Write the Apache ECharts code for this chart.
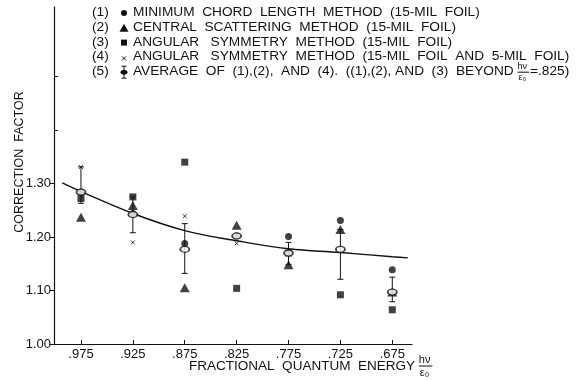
<!DOCTYPE html>
<html>
<head>
<meta charset="utf-8">
<script src="https://cdn.jsdelivr.net/npm/echarts@6/dist/echarts.min.js"></script>
<style>
  html, body { margin: 0; padding: 0; background: #fff; }
  #chart { width: 576px; height: 381px; }
</style>
</head>
<body>
<div id="chart"></div>
<script>
// fractional quantum energy hv/E0 (axis runs right-to-left)
const energies = [0.975, 0.925, 0.875, 0.825, 0.775, 0.725, 0.675];
const xTickLabels = ['.975', '.925', '.875', '.825', '.775', '.725', '.675'];
const yTicks = [1.00, 1.10, 1.20, 1.30];
const yMinorTicks = [1.40, 1.50];

// (1) minimum chord length method
const chordLength = [1.284, 1.244, 1.188, 1.202, 1.201, 1.231, 1.139];
// (2) central scattering method
const centralScatter = [1.237, 1.259, 1.105, 1.222, 1.148, 1.214, 1.097];
// (3) angular symmetry method, 15-mil foil
const angular15 = [1.272, 1.275, 1.340, 1.104, 1.170, 1.092, 1.064];
// (4) angular symmetry method, 15 + 5-mil foil
const angular5 = [1.331, 1.190, 1.239, 1.188, null, null, null];
// (5) average with spread
const average = [1.284, 1.242, 1.177, 1.202, 1.170, 1.177, 1.097];
const errLow = [1.263, 1.208, 1.132, null, 1.148, 1.121, 1.079];
const errHigh = [1.331, 1.275, 1.225, null, 1.190, 1.214, 1.125];

// smooth curve drawn through the points
const fitX = [0.993, 0.975, 0.925, 0.875, 0.825, 0.775, 0.725, 0.675, 0.66];
const fitY = [1.301, 1.285, 1.244, 1.212, 1.193, 1.178, 1.171, 1.163, 1.161];

const FONT = 'Liberation Sans';
const INK = '#111';

function pairs(xs, ys) {
  return xs.map((x, i) => [x, ys[i]]).filter(p => p[1] != null);
}

const ctx = document.createElement('canvas').getContext('2d');
function textW(str, size) {
  ctx.font = size + 'px "' + FONT + '"';
  return ctx.measureText(str).width;
}
function font(size) { return size + 'px "' + FONT + '"'; }

const chart = echarts.init(document.getElementById('chart'));

// legend block
const legendRows = [
  ['(1)', 'MINIMUM  CHORD  LENGTH  METHOD  (15-MIL  FOIL)'],
  ['(2)', 'CENTRAL  SCATTERING  METHOD  (15-MIL  FOIL)'],
  ['(3)', 'ANGULAR   SYMMETRY  METHOD  (15-MIL  FOIL)'],
  ['(4)', 'ANGULAR   SYMMETRY  METHOD  (15-MIL  FOIL  AND  5-MIL  FOIL)'],
  ['(5)', 'AVERAGE  OF  (1),(2),  AND  (4).  ((1),(2), AND  (3)  BEYOND ']
];
const LX = 92, LSYM = 124, LTXT = 133, LY0 = 13, LDY = 14.8;
const LFS = Math.min(14, 12 * (570 - LTXT) / textW(legendRows[3][1], 12));
const graphics = [];
legendRows.forEach((r, i) => {
  const y = LY0 + i * LDY;
  graphics.push({ type: 'text', left: LX, top: y - LFS / 2 - 1, style: { text: r[0], font: font(LFS), fill: INK } });
  graphics.push({ type: 'text', left: LTXT, top: y - LFS / 2 - 1, style: { text: r[1], font: font(LFS), fill: INK } });
});
// legend symbols
graphics.push({ type: 'circle', shape: { cx: LSYM, cy: LY0, r: 3 }, style: { fill: INK } });
graphics.push({ type: 'polygon', shape: { points: [[LSYM - 4.5, LY0 + LDY + 4], [LSYM + 4.5, LY0 + LDY + 4], [LSYM, LY0 + LDY - 4]] }, style: { fill: INK } });
graphics.push({ type: 'rect', shape: { x: LSYM - 3, y: LY0 + 2 * LDY - 3, width: 6, height: 6 }, style: { fill: INK } });
graphics.push({ type: 'polyline', shape: { points: [[LSYM - 2, LY0 + 3 * LDY - 1], [LSYM + 2, LY0 + 3 * LDY + 3]] }, style: { stroke: INK, lineWidth: 1 } });
graphics.push({ type: 'polyline', shape: { points: [[LSYM + 2, LY0 + 3 * LDY - 1], [LSYM - 2, LY0 + 3 * LDY + 3]] }, style: { stroke: INK, lineWidth: 1 } });
(function () {
  const cy = LY0 + 4 * LDY;
  graphics.push({ type: 'line', shape: { x1: LSYM, y1: cy - 6, x2: LSYM, y2: cy + 6 }, style: { stroke: INK, lineWidth: 1 } });
  graphics.push({ type: 'line', shape: { x1: LSYM - 2.5, y1: cy - 6, x2: LSYM + 2.5, y2: cy - 6 }, style: { stroke: INK, lineWidth: 1 } });
  graphics.push({ type: 'line', shape: { x1: LSYM - 2.5, y1: cy + 6, x2: LSYM + 2.5, y2: cy + 6 }, style: { stroke: INK, lineWidth: 1 } });
  graphics.push({ type: 'ellipse', shape: { cx: LSYM, cy: cy, rx: 3.5, ry: 2.5 }, style: { fill: INK } });
})();

// hv / E0 fraction helper
function fraction(x, cy, size) {
  const w = textW('hν', size) + 2;
  return [
    { type: 'text', left: x, top: cy - size - 1, style: { text: 'hν', font: font(size), fill: INK } },
    { type: 'line', shape: { x1: x, y1: cy, x2: x + w, y2: cy }, style: { stroke: INK, lineWidth: 1 } },
    { type: 'text', left: x + 1, top: cy + 1, style: { text: 'ε₀', font: font(size), fill: INK } }
  ];
}

const row5y = LY0 + 4 * LDY;
const fx5 = LTXT + textW(legendRows[4][1], LFS);
graphics.push(...fraction(fx5, row5y, 9));
graphics.push({ type: 'text', left: fx5 + textW('hν', 9) + 3, top: row5y - LFS / 2 - 1, style: { text: '=.825)', font: font(LFS), fill: INK } });

// axis titles
const xTitle = 'FRACTIONAL  QUANTUM  ENERGY ';
const XFS = 13 * 230 / textW(xTitle, 13);
graphics.push({ type: 'text', left: 189, top: 367 - XFS / 2 - 1, style: { text: xTitle, font: font(XFS), fill: INK } });
graphics.push(...fraction(189 + textW(xTitle, XFS), 366, 11));
graphics.push({
  type: 'text', x: 20, y: 162, rotation: Math.PI / 2,
  style: { text: 'CORRECTION  FACTOR', font: font(12.5), fill: INK, align: 'center', verticalAlign: 'middle' }
});

function errorBar(params, api) {
  const x = api.value(0), lo = api.value(1), hi = api.value(2);
  const top = api.coord([x, hi]);
  const bot = api.coord([x, lo]);
  const cap = 3;
  const s = { stroke: INK, lineWidth: 1 };
  return {
    type: 'group',
    children: [
      { type: 'line', shape: { x1: top[0], y1: top[1], x2: bot[0], y2: bot[1] }, style: s },
      { type: 'line', shape: { x1: top[0] - cap, y1: top[1], x2: top[0] + cap, y2: top[1] }, style: s },
      { type: 'line', shape: { x1: bot[0] - cap, y1: bot[1], x2: bot[0] + cap, y2: bot[1] }, style: s }
    ]
  };
}

const errData = energies.map((x, i) => [x, errLow[i], errHigh[i]]).filter(d => d[1] != null);

const option = {
  animation: false,
  backgroundColor: '#fff',
  grid: { left: 54, right: 164, top: 7, bottom: 37 },
  xAxis: {
    type: 'value', inverse: true, min: 0.656, max: 1.001,
    axisLine: { lineStyle: { color: INK, width: 1.2 } },
    axisTick: { inside: true, length: 4, lineStyle: { color: INK }, customValues: energies },
    axisLabel: {
      customValues: energies, color: INK, fontFamily: FONT, fontSize: 13, margin: 4,
      formatter: v => xTickLabels[energies.indexOf(+v.toFixed(3))] || ''
    },
    splitLine: { show: false }
  },
  yAxis: [{
    type: 'value', min: 1.0, max: 1.63,
    axisLine: { show: true, lineStyle: { color: INK, width: 1.2 } },
    axisTick: { show: true, length: 4, lineStyle: { color: INK }, customValues: yTicks },
    axisLabel: { customValues: yTicks, color: INK, fontFamily: FONT, fontSize: 13, margin: 3, formatter: v => v.toFixed(2) },
    splitLine: { show: false }
  }, {
    type: 'value', min: 1.0, max: 1.63, position: 'left',
    axisLine: { show: false },
    axisTick: { show: true, inside: true, length: 4, lineStyle: { color: INK }, customValues: yMinorTicks },
    axisLabel: { show: false },
    splitLine: { show: false }
  }],
  graphic: graphics,
  series: [
    {
      name: 'curve', type: 'line', smooth: 0.4, showSymbol: false, z: 2,
      lineStyle: { color: INK, width: 1.4 },
      data: pairs(fitX, fitY)
    },
    {
      name: 'spread', type: 'custom', renderItem: errorBar, z: 3,
      encode: { x: 0, y: [1, 2] }, data: errData
    },
    {
      name: '(1)', type: 'scatter', symbol: 'circle', symbolSize: 7, z: 4,
      itemStyle: { color: INK }, data: pairs(energies, chordLength)
    },
    {
      name: '(2)', type: 'scatter', symbol: 'triangle', symbolSize: [10, 9], z: 4,
      itemStyle: { color: INK }, data: pairs(energies, centralScatter)
    },
    {
      name: '(3)', type: 'scatter', symbol: 'rect', symbolSize: 7, z: 4,
      itemStyle: { color: INK }, data: pairs(energies, angular15)
    },
    {
      name: '(4)', type: 'scatter', symbol: 'path://M0,0L10,10M10,0L0,10', symbolSize: 4, z: 4,
      itemStyle: { color: 'none', borderColor: INK, borderWidth: 1 }, data: pairs(energies, angular5)
    },
    {
      name: '(5)', type: 'scatter', symbol: 'circle', symbolSize: [9, 6], z: 5,
      itemStyle: { color: '#fff', borderColor: INK, borderWidth: 1.5 }, data: pairs(energies, average)
    }
  ]
};
chart.setOption(option);
</script>
</body>
</html>
